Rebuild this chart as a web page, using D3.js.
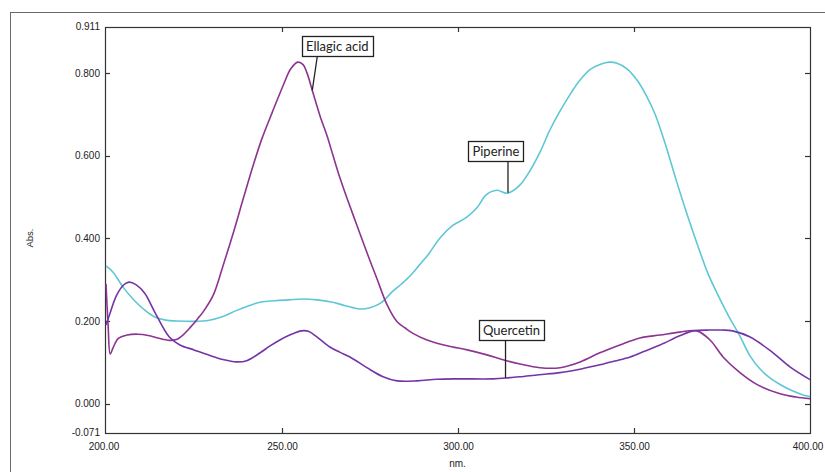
<!DOCTYPE html>
<html>
<head>
<meta charset="utf-8">
<script src="https://cdn.jsdelivr.net/npm/d3@7"></script>
<style>
  html, body { margin: 0; padding: 0; background: #fff; }
  svg { display: block; }
</style>
</head>
<body>
<svg id="chart" width="825" height="472"></svg>
<script>
// UV absorbance spectra, wavelength (nm) vs absorbance

const piperineNm = [200, 202, 205, 208, 211, 214, 217, 220, 225, 229, 233, 237, 241, 244, 248, 252, 256, 260, 264, 268, 272, 275, 278, 281.5, 284, 286.5, 289, 291.5, 295, 298.5, 302.5, 305.5, 308, 311, 314, 317.5, 320.5, 323.5, 326, 329, 332, 334.5, 337.5, 340.5, 343, 345, 348, 351, 353.5, 356, 359, 362, 365, 368, 371, 374, 377, 380, 383, 386, 389, 392, 395, 398, 400];
const piperineAbs = [0.333, 0.318, 0.28, 0.25, 0.226, 0.209, 0.202, 0.200, 0.199, 0.201, 0.21, 0.225, 0.238, 0.246, 0.249, 0.251, 0.253, 0.251, 0.246, 0.237, 0.229, 0.232, 0.243, 0.272, 0.29, 0.31, 0.335, 0.36, 0.402, 0.431, 0.451, 0.475, 0.505, 0.516, 0.509, 0.528, 0.564, 0.612, 0.66, 0.708, 0.75, 0.781, 0.808, 0.821, 0.826, 0.824, 0.81, 0.781, 0.745, 0.70, 0.625, 0.54, 0.46, 0.385, 0.315, 0.26, 0.21, 0.165, 0.115, 0.082, 0.06, 0.044, 0.031, 0.021, 0.017];

const ellagicNm = [200, 200.6, 201.2, 202, 203.5, 206, 209, 212, 215, 218, 220, 222, 224, 226, 227.6, 230.5, 233.3, 236.2, 239, 241.8, 244.3, 247.2, 250.3, 252.5, 254.5, 256, 257.1, 258.8, 260.8, 262.8, 264.5, 266.5, 268.5, 271.3, 274.1, 276.9, 279.8, 282.7, 285, 287.2, 291.2, 296.9, 302.6, 308.2, 312.8, 317.6, 323.3, 329, 334.7, 340.3, 346, 351.7, 357.4, 363, 367.9, 371.6, 375.3, 380.1, 385, 391.5, 396, 400];
const ellagicAbs = [0.29, 0.19, 0.12, 0.135, 0.158, 0.166, 0.168, 0.165, 0.158, 0.153, 0.155, 0.167, 0.185, 0.205, 0.222, 0.263, 0.335, 0.414, 0.496, 0.576, 0.641, 0.704, 0.769, 0.81, 0.826, 0.82, 0.80, 0.752, 0.696, 0.648, 0.6, 0.545, 0.496, 0.431, 0.366, 0.304, 0.24, 0.198, 0.183, 0.17, 0.154, 0.14, 0.13, 0.118, 0.106, 0.096, 0.087, 0.087, 0.101, 0.123, 0.142, 0.159, 0.166, 0.173, 0.176, 0.154, 0.113, 0.075, 0.046, 0.024, 0.016, 0.012];

const quercetinNm = [200, 201, 203, 205, 206.5, 208.5, 211, 214, 218, 221, 225, 229, 233.5, 237, 240, 243.8, 246.5, 249.4, 252.5, 255.5, 257.5, 260, 263.6, 266.5, 269.3, 274.1, 278.7, 282.7, 288.4, 294, 300, 310, 314.8, 317.6, 323, 329, 335, 340.3, 344.5, 348.9, 353, 357.4, 363, 366.8, 371.6, 375, 378, 383, 389.5, 394.3, 400];
const quercetinAbs = [0.19, 0.215, 0.262, 0.287, 0.294, 0.288, 0.267, 0.219, 0.161, 0.142, 0.13, 0.118, 0.106, 0.101, 0.104, 0.123, 0.139, 0.154, 0.167, 0.176, 0.175, 0.161, 0.137, 0.124, 0.113, 0.087, 0.065, 0.055, 0.055, 0.059, 0.06, 0.06, 0.063, 0.065, 0.07, 0.075, 0.084, 0.094, 0.103, 0.113, 0.127, 0.142, 0.164, 0.176, 0.178, 0.178, 0.176, 0.161, 0.123, 0.089, 0.058];

const seriesNames = ["Piperine", "Ellagic acid", "Quercetin"];
const seriesColors = ["#5ec7d6", "#8c3490", "#7534a6"];

const xDomain = [200, 400];
const yDomain = [-0.071, 0.911];
const xTickValues = [250, 300, 350];
const yTickValues = [0.0, 0.2, 0.4, 0.6, 0.8];
const xEndLabels = ["200.00", "400.00"];
const yEndLabels = ["-0.071", "0.911"];

// callout: series, wavelength of the pointed spot, label box centre offset,
// and horizontal offset of the leader's top end from the pointed spot
const callouts = [
  { series: 1, nm: 258.6, dx: 25, dy: -44, lx: 5 },
  { series: 0, nm: 314.2, dx: -12, dy: -41, lx: 0 },
  { series: 2, nm: 313.5, dx: 6, dy: -47, lx: 0 }
];

const svg = d3.select("#chart");
const W = 825, H = 472;
const plot = { left: 105, right: 810, top: 27, bottom: 433 };

const x = d3.scaleLinear().domain(xDomain).range([plot.left + 1, plot.right]);
const y = d3.scaleLinear().domain(yDomain).range([plot.bottom, plot.top]);

// outer frame
svg.append("rect")
  .attr("x", 10.5).attr("y", 12.5)
  .attr("width", W + 20).attr("height", H + 20)
  .attr("fill", "none").attr("stroke", "#6a6a6a").attr("stroke-width", 1);

// plot box
svg.append("rect")
  .attr("x", plot.left + 0.5).attr("y", plot.top + 0.5)
  .attr("width", plot.right - plot.left).attr("height", plot.bottom - plot.top)
  .attr("fill", "none").attr("stroke", "#333").attr("stroke-width", 1.2);

const tickFont = "'Liberation Sans', Arial, sans-serif";

// inward tick marks on all four sides
const tickLen = 5;
const gTicks = svg.append("g").attr("stroke", "#333").attr("stroke-width", 1.2);
yTickValues.forEach(v => {
  const py = Math.round(y(v)) + 0.5;
  gTicks.append("line").attr("x1", plot.left).attr("x2", plot.left + tickLen).attr("y1", py).attr("y2", py);
  gTicks.append("line").attr("x1", plot.right).attr("x2", plot.right - tickLen).attr("y1", py).attr("y2", py);
});
xTickValues.forEach(v => {
  const px = Math.round(x(v)) + 0.5;
  gTicks.append("line").attr("x1", px).attr("x2", px).attr("y1", plot.bottom).attr("y2", plot.bottom - tickLen);
  gTicks.append("line").attr("x1", px).attr("x2", px).attr("y1", plot.top).attr("y2", plot.top + tickLen);
});

// y axis labels (tick marks drawn above; the axis supplies the text)
const yAxis = d3.axisLeft(y).tickValues(yTickValues).tickSize(0).tickPadding(5).tickFormat(d3.format(".3f"));
const gy = svg.append("g").attr("transform", `translate(${plot.left},0)`).call(yAxis);
gy.select(".domain").remove();
gy.selectAll("text").attr("font-family", tickFont).attr("font-size", 10).attr("fill", "#222");
yEndLabels.forEach((t, i) => {
  svg.append("text")
    .attr("x", plot.left - 5).attr("y", y(yDomain[i]))
    .attr("dy", "0.32em").attr("text-anchor", "end")
    .attr("font-family", tickFont).attr("font-size", 10).attr("fill", "#222")
    .text(t);
});

// x axis labels
const xAxis = d3.axisBottom(x).tickValues(xTickValues).tickSize(0).tickPadding(10).tickFormat(d3.format(".2f"));
const gx = svg.append("g").attr("transform", `translate(0,${plot.bottom})`).call(xAxis);
gx.select(".domain").remove();
gx.selectAll("text").attr("font-family", tickFont).attr("font-size", 10).attr("fill", "#222");
xEndLabels.forEach((t, i) => {
  svg.append("text")
    .attr("x", x(xDomain[i]) - 2).attr("y", plot.bottom + 10)
    .attr("dy", "0.71em").attr("text-anchor", "middle")
    .attr("font-family", tickFont).attr("font-size", 10).attr("fill", "#222")
    .text(t);
});

// axis titles
svg.append("text")
  .attr("transform", `translate(33,${(plot.top + plot.bottom) / 2 + 8}) rotate(-90)`)
  .attr("text-anchor", "middle")
  .attr("font-family", tickFont).attr("font-size", 9.5).attr("fill", "#222")
  .text("Abs.");
svg.append("text")
  .attr("x", (plot.left + plot.right) / 2).attr("y", 467)
  .attr("text-anchor", "middle")
  .attr("font-family", tickFont).attr("font-size", 10).attr("fill", "#222")
  .text("nm.");

// spectra
const series = [
  { nm: piperineNm, abs: piperineAbs },
  { nm: ellagicNm, abs: ellagicAbs },
  { nm: quercetinNm, abs: quercetinAbs }
].map((s, i) => ({
  name: seriesNames[i],
  color: seriesColors[i],
  points: s.nm.map((n, j) => [n, s.abs[j]])
}));

const line = d3.line()
  .x(d => x(d[0]))
  .y(d => y(d[1]))
  .curve(d3.curveCatmullRom.alpha(0.5));

svg.append("g")
  .selectAll("path")
  .data(series)
  .join("path")
  .attr("d", d => line(d.points))
  .attr("fill", "none")
  .attr("stroke", d => d.color)
  .attr("stroke-width", 1.6)
  .attr("stroke-linejoin", "round");

// value on a spectrum at a given wavelength (linear between samples)
function valueAt(points, nm) {
  const i = d3.bisector(d => d[0]).left(points, nm);
  if (i <= 0) return points[0][1];
  if (i >= points.length) return points[points.length - 1][1];
  const a = points[i - 1], b = points[i];
  return a[1] + (b[1] - a[1]) * (nm - a[0]) / (b[0] - a[0]);
}

// labelled callouts
const labelFont = "Lato, 'Open Sans', sans-serif";
callouts.forEach(c => {
  const s = series[c.series];
  const ax = x(c.nm), ay = y(valueAt(s.points, c.nm));
  const cx = ax + c.dx, cy = ay + c.dy;
  const g = svg.append("g");
  const txt = g.append("text")
    .attr("x", cx).attr("y", cy)
    .attr("dy", "0.35em").attr("text-anchor", "middle")
    .attr("font-family", labelFont).attr("font-size", 13).attr("fill", "#222")
    .text(s.name);
  const bb = txt.node().getBBox();
  const padX = 4, padY = 2;
  const bx = bb.x - padX, by = bb.y - padY, bw = bb.width + 2 * padX, bh = bb.height + 2 * padY;
  g.insert("rect", "text")
    .attr("x", Math.round(bx) + 0.5).attr("y", Math.round(by) + 0.5)
    .attr("width", Math.round(bw)).attr("height", Math.round(bh))
    .attr("fill", "#fff").attr("stroke", "#222").attr("stroke-width", 1.3);
  g.append("line")
    .attr("x1", ax + c.lx).attr("y1", Math.round(by + bh) + 0.5)
    .attr("x2", ax).attr("y2", ay)
    .attr("stroke", "#222").attr("stroke-width", 1.3);
});
</script>
</body>
</html>
